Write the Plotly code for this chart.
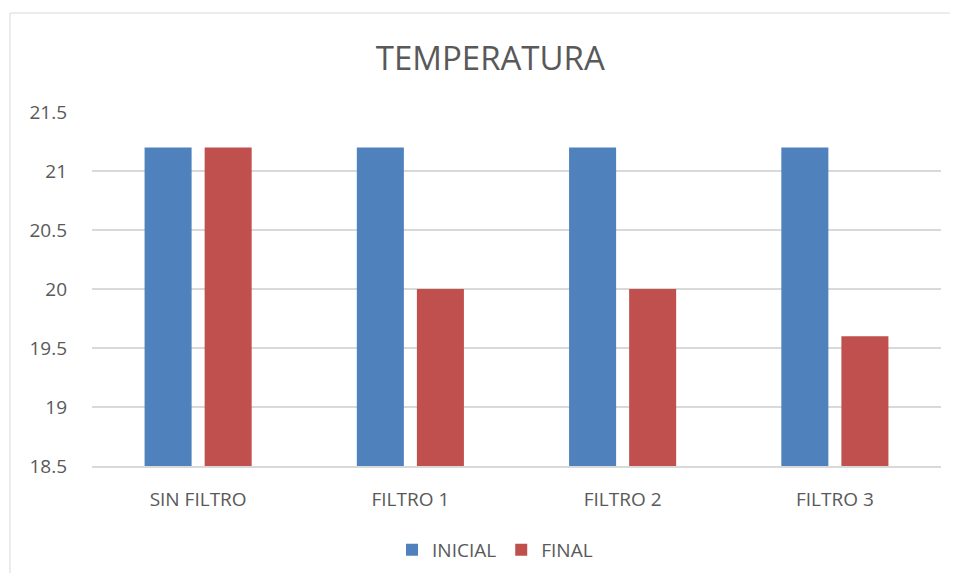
import plotly.graph_objects as go

categories = ["SIN FILTRO", "FILTRO 1", "FILTRO 2", "FILTRO 3"]
inicial = [21.2, 21.2, 21.2, 21.2]
final = [21.2, 20.0, 20.0, 19.6]
y_ticks = [18.5, 19, 19.5, 20, 20.5, 21, 21.5]
y_tick_labels = ["18.5", "19", "19.5", "20", "20.5", "21", "21.5"]

FONT = "Open Sans, Liberation Sans, sans-serif"
TXT = "#595959"

fig = go.Figure()
fig.add_trace(go.Bar(name="INICIAL", x=categories, y=inicial, marker_color="#4F81BD"))
fig.add_trace(go.Bar(name="FINAL", x=categories, y=final, marker_color="#C0504D"))

fig.update_layout(
    width=942, height=565,
    margin=dict(l=84, r=9, t=104, b=107, autoexpand=False),
    paper_bgcolor="white", plot_bgcolor="white",
    barmode="group", bargap=0.434, bargroupgap=0.217,
    title=dict(text="TEMPERATURA", x=0.512, xanchor="center", y=0.91, yanchor="middle",
               font=dict(family=FONT, size=33, color=TXT)),
    font=dict(family=FONT, color=TXT),
    legend=dict(orientation="h", xref="container", yref="container",
                x=0.517, xanchor="center", y=0.041, yanchor="middle",
                font=dict(size=19, color=TXT), itemwidth=30),
    xaxis=dict(showgrid=False, showline=True, linecolor="#D9D9D9", linewidth=2,
               automargin=False,
               ticks="", ticklabelstandoff=15, tickfont=dict(size=19, color=TXT)),
    yaxis=dict(range=[18.5, 21.5], tickvals=y_ticks, ticktext=y_tick_labels,
               automargin=False,
               showgrid=True, gridcolor="#D9D9D9", gridwidth=1.5, zeroline=False,
               showline=False, ticks="", ticklabelstandoff=24,
               tickfont=dict(size=19, color=TXT)),
    shapes=[dict(type="rect", xref="paper", yref="paper",
                 x0=-0.0966, x1=1.03, y0=-0.35, y1=1.2797,
                 line=dict(color="#D9D9D9", width=1), fillcolor="rgba(0,0,0,0)", layer="below")],
)
fig.update_traces(marker_line_width=0)

fig.write_html("out.html")
